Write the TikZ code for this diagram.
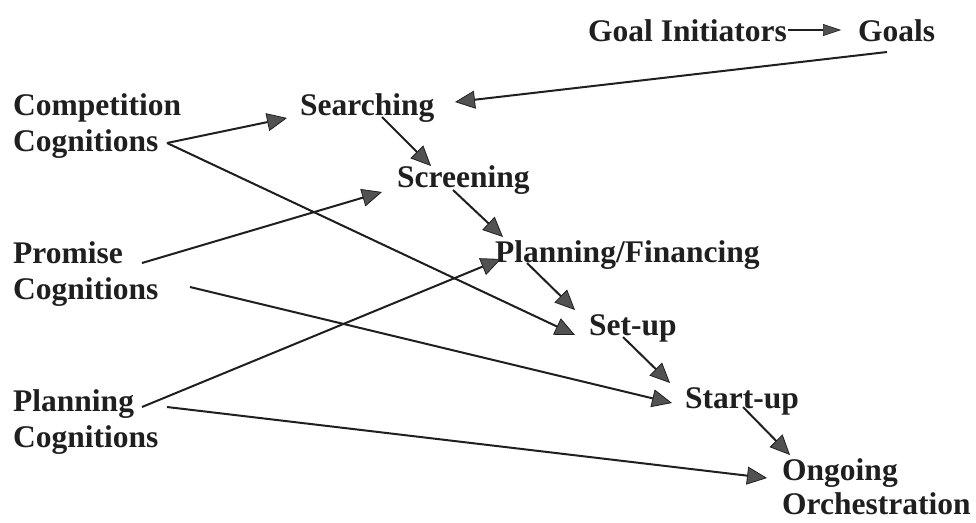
\documentclass[tikz,border=0pt]{standalone}
\usepackage{fontspec}
\setmainfont{Liberation Serif}
\usetikzlibrary{arrows.meta}
\definecolor{ink}{gray}{0.12}
\definecolor{headfill}{gray}{0.32}
\begin{document}
\begin{tikzpicture}[x=1pt,y=-1pt,
  lbl/.style={anchor=base west,inner sep=0pt,align=left,text=ink,
    font=\bfseries\fontsize{31.5}{36}\selectfont},
  link/.style={draw=ink,line width=2pt,
    -{Triangle[length=20pt,width=18pt,fill=headfill,line width=0.8pt]}},
  thin link/.style={draw=ink,line width=1.4pt,
    -{Triangle[length=18pt,width=12pt,fill=headfill,line width=0.6pt]}}]
\useasboundingbox (0,0) rectangle (976,522);

% labels (base anchor sits on the last line of two-line labels)
\node[lbl] (goalinit) at (588,41) {Goal Initiators};
\node[lbl] (goals)    at (858,41) {Goals};
\node[lbl] (compcog)  at (13,151) {Competition\\Cognitions};
\node[lbl] (search)   at (300,115) {Searching};
\node[lbl] (screen)   at (397,187) {Screening};
\node[lbl] (promcog)  at (13,299) {Promise\\Cognitions};
\node[lbl] (planfin)  at (495,262) {Planning/Financing};
\node[lbl] (setup)    at (589,335) {Set-up};
\node[lbl] (planncog) at (13,447) {Planning\\Cognitions};
\node[lbl] (startup)  at (685,408) {Start-up};
\node[lbl,font=\bfseries\fontsize{31.5}{34}\selectfont]
  (ongoing) at (782,514) {Ongoing\\Orchestration};

% connector end points
\coordinate (gi-o) at (788,30);  \coordinate (gl-i) at (841,30);
\coordinate (gl-o) at (887,52);  \coordinate (se-i) at (455,102);
\coordinate (cc-o) at (167,143);
\coordinate (se-a) at (287,118);
\coordinate (su-a) at (575,335);
\coordinate (se-o) at (382,117); \coordinate (sc-i) at (431,166);
\coordinate (pc-o1) at (142,263); \coordinate (sc-a) at (382,192);
\coordinate (sc-o) at (453,190); \coordinate (pf-i) at (503,237);
\coordinate (nc-o1) at (142,407); \coordinate (pf-a) at (501,259);
\coordinate (pf-o) at (527,263); \coordinate (su-i) at (575,310);
\coordinate (su-o) at (623,337); \coordinate (st-i) at (670,383);
\coordinate (pc-o2) at (190,287); \coordinate (st-a) at (672,403);
\coordinate (st-o) at (743,407); \coordinate (og-i) at (790,455);
\coordinate (nc-o2) at (167,407); \coordinate (og-a) at (767,478);

% connectors
\draw[thin link] (gi-o) -- (gl-i);
\draw[link] (gl-o) -- (se-i);
\draw[link] (cc-o) -- (se-a);
\draw[link] (cc-o) -- (su-a);
\draw[link] (se-o) -- (sc-i);
\draw[link] (pc-o1) -- (sc-a);
\draw[link] (sc-o) -- (pf-i);
\draw[link] (nc-o1) -- (pf-a);
\draw[link] (pf-o) -- (su-i);
\draw[link] (su-o) -- (st-i);
\draw[link] (pc-o2) -- (st-a);
\draw[link] (st-o) -- (og-i);
\draw[link] (nc-o2) -- (og-a);
\end{tikzpicture}
\end{document}
